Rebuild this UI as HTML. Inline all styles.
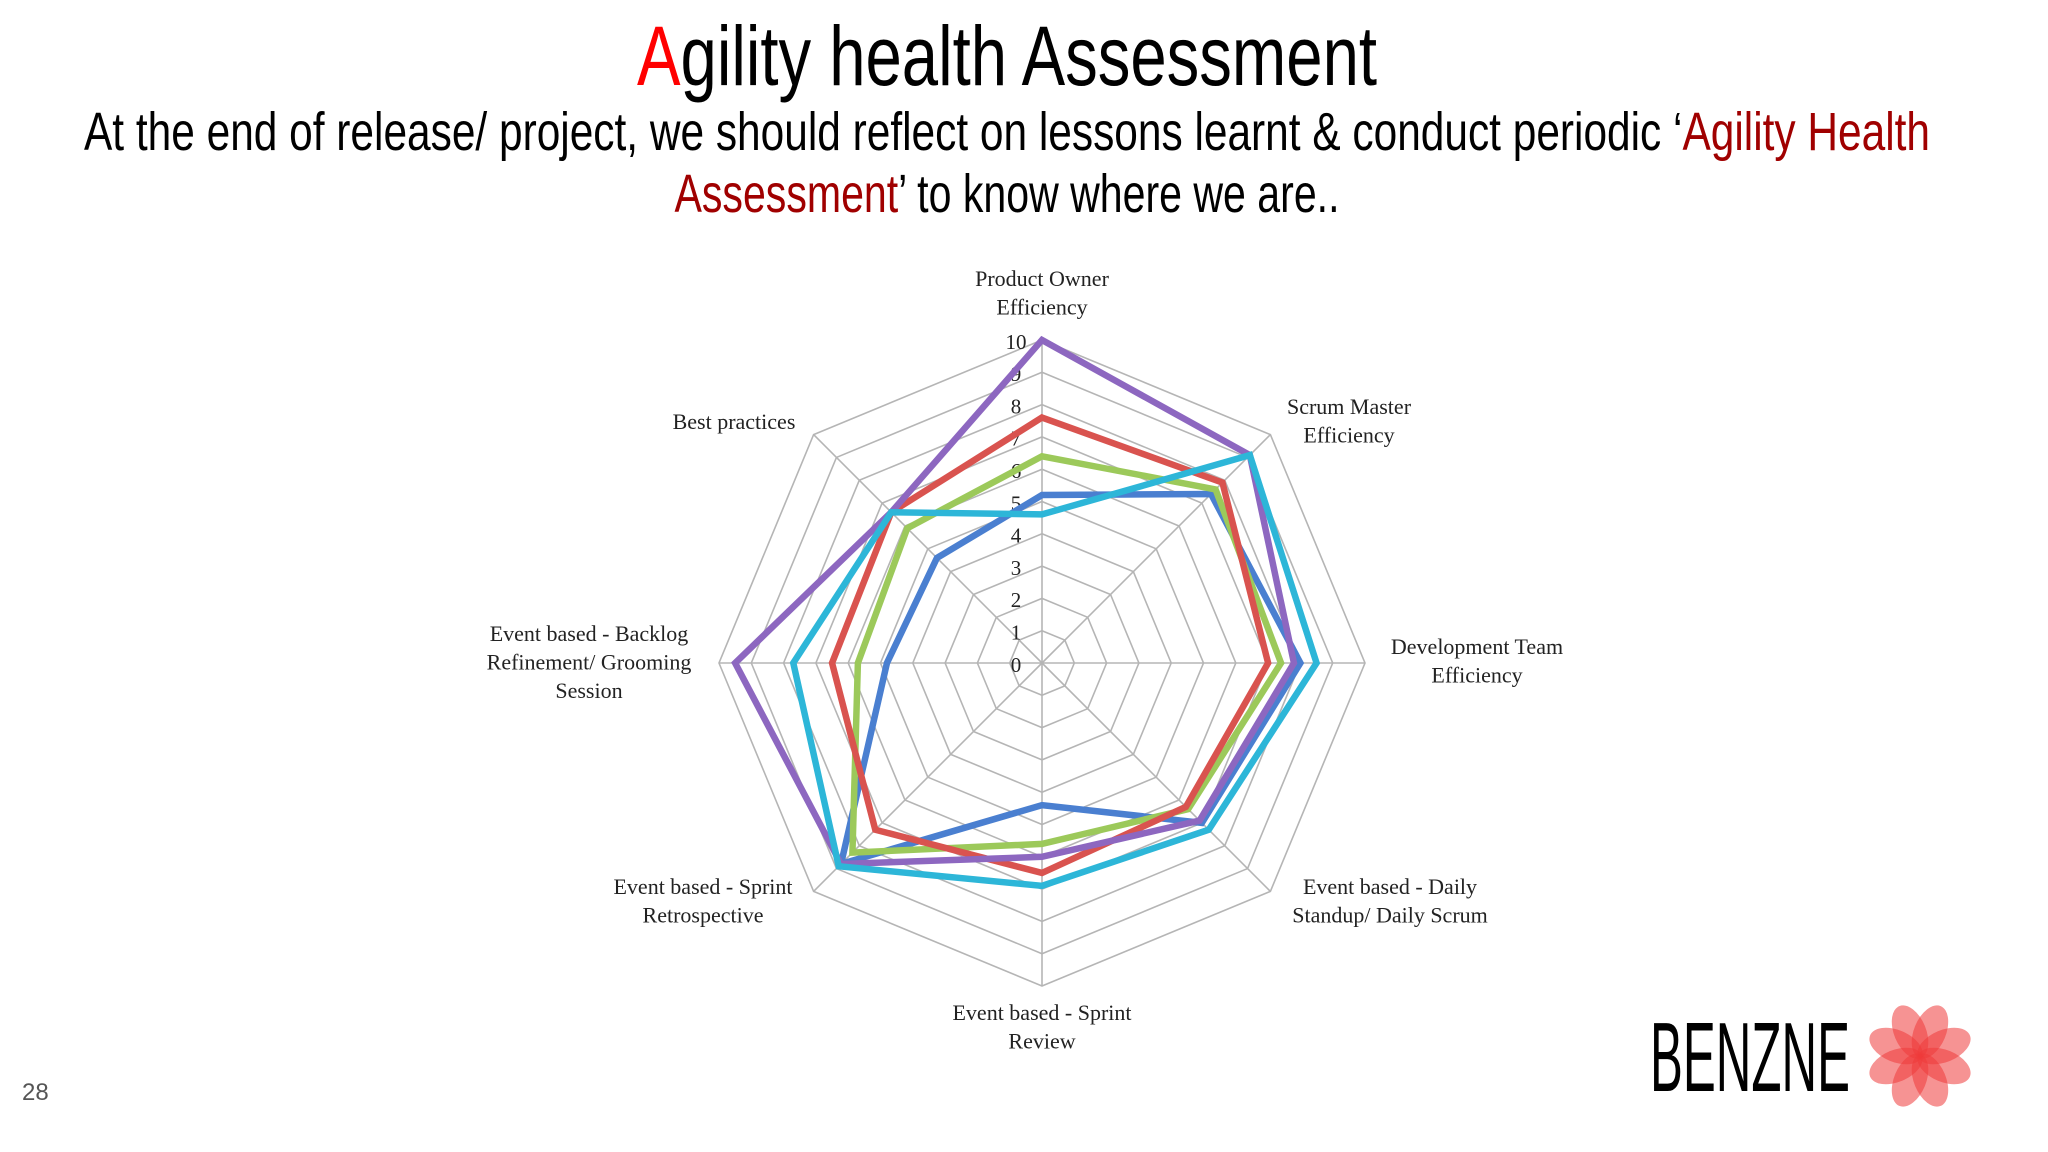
<!DOCTYPE html>
<html><head><meta charset="utf-8"><style>
html,body{margin:0;padding:0;background:#fff;}
svg{display:block;}
</style></head><body>
<svg id="s" width="2048" height="1152" viewBox="0 0 2048 1152" xmlns="http://www.w3.org/2000/svg">
<text x="1007" y="85" text-anchor="middle" font-family="'Liberation Sans Narrow','Liberation Sans',sans-serif" font-size="84" textLength="740" lengthAdjust="spacingAndGlyphs"><tspan fill="#ff0000">A</tspan><tspan fill="#000">gility health Assessment</tspan></text>
<text x="1007" y="150" text-anchor="middle" font-family="'Liberation Sans Narrow','Liberation Sans',sans-serif" font-size="54" textLength="1846" lengthAdjust="spacingAndGlyphs">At the end of release/ project, we should reflect on lessons learnt &amp; conduct periodic ‘<tspan fill="#a00000">Agility Health</tspan></text>
<text x="1007" y="212" text-anchor="middle" font-family="'Liberation Sans Narrow','Liberation Sans',sans-serif" font-size="54" textLength="665" lengthAdjust="spacingAndGlyphs"><tspan fill="#a00000">Assessment</tspan>’ to know where we are..</text>
<g id="chart"></g>
<text x="22" y="1100" font-family="'Liberation Sans',sans-serif" font-size="24" fill="#555">28</text>
<text x="1650" y="1091" font-family="'Liberation Sans Narrow','Liberation Sans',sans-serif" font-size="98" fill="#000" textLength="200" lengthAdjust="spacingAndGlyphs">BENZNE</text>
<g id="flower"></g>
</svg>
<script>
const categories = ["Product Owner Efficiency","Scrum Master Efficiency","Development Team Efficiency","Event based - Daily Standup/ Daily Scrum","Event based - Sprint Review","Event based - Sprint Retrospective","Event based - Backlog Refinement/ Grooming Session","Best practices"];
const tickLabels = ["0","1","2","3","4","5","6","7","8","9","10"];
const seriesBlue = [5.2, 7.4, 8.0, 7.0, 4.4, 8.8, 4.8, 4.6];
const seriesGreen = [6.4, 7.6, 7.4, 6.4, 5.6, 8.3, 5.7, 5.9];
const seriesRed = [7.6, 7.9, 7.0, 6.3, 6.5, 7.3, 6.5, 6.6];
const seriesPurple = [10, 9.1, 7.8, 6.9, 6.0, 8.8, 9.5, 6.6];
const seriesCyan = [4.6, 9.1, 8.5, 7.3, 6.9, 8.9, 7.7, 6.6];

const NS = "http://www.w3.org/2000/svg";
const cx = 1042, cy = 663, R = 323, maxV = 10;
const chart = document.getElementById('chart');
function ang(i){ return -Math.PI/2 + i*2*Math.PI/categories.length; }
function pt(i, v){ const r = v/maxV*R; return [cx + r*Math.cos(ang(i)), cy + r*Math.sin(ang(i))]; }
function mk(tag, attrs){ const e = document.createElementNS(NS, tag); for (const k in attrs) e.setAttribute(k, attrs[k]); return e; }

for (let t = 1; t < tickLabels.length; t++) {
  const pts = categories.map((c,i)=>pt(i,t).join(',')).join(' ');
  const g = mk('polygon', {points: pts, fill: 'none', stroke: '#b5b5b5', 'stroke-width': 1.6});
  
  
  chart.appendChild(g);
}
categories.forEach((c,i)=>{
  const [x,y] = pt(i, maxV);
  const l = mk('line', {x1: cx, y1: cy, x2: x, y2: y, stroke: '#b5b5b5', 'stroke-width': 1.6});
  
  
  chart.appendChild(l);
});
tickLabels.forEach((lab, t)=>{
  const [x,y] = pt(0, t);
  const tx = mk('text', {x: x-26, y: y+4, 'text-anchor': 'middle', 'dominant-baseline': 'middle', 'font-family': "'Liberation Serif',serif", 'font-size': 21, fill: '#222'});
  tx.textContent = lab;
  
  
  chart.appendChild(tx);
});
const labelLayout = [
  [["Product Owner","Efficiency"],1042,281],
  [["Scrum Master","Efficiency"],1349,409],
  [["Development Team","Efficiency"],1477,649],
  [["Event based - Daily","Standup/ Daily Scrum"],1390,889],
  [["Event based - Sprint","Review"],1042,1015],
  [["Event based - Sprint","Retrospective"],703,889],
  [["Event based - Backlog","Refinement/ Grooming","Session"],589,636],
  [["Best practices"],734,424]
];
labelLayout.forEach(([lines,x,y])=>{
  lines.forEach((ln,k)=>{
    const tx = mk('text', {x: x, y: y + k*28.5, 'text-anchor': 'middle', 'dominant-baseline': 'middle', 'font-family': "'Liberation Serif',serif", 'font-size': 22, fill: '#222'});
    tx.textContent = ln;
    
    
    chart.appendChild(tx);
  });
});
const series = [[seriesBlue,'#4a7fd0','series-blue'],[seriesGreen,'#9cc95a','series-green'],[seriesRed,'#d9534f','series-red'],[seriesPurple,'#8d67c0','series-purple'],[seriesCyan,'#2db6d8','series-cyan']];
series.forEach(([vals,col,name])=>{
  const pts = vals.map((v,i)=>pt(i,v).join(',')).join(' ');
  const p = mk('polygon', {points: pts, fill: 'none', stroke: col, 'stroke-width': 6.5, 'stroke-linejoin': 'miter'});
  
  
  chart.appendChild(p);
});
const fl = document.getElementById('flower');
for (let k=0;k<8;k++){
  const e = mk('ellipse', {cx: 1920, cy: 1030, rx: 16, ry: 28, fill: '#ee3b3b', 'fill-opacity': 0.55, transform: 'rotate('+(k*45+22.5)+' 1920 1056)'});
  
  
  fl.appendChild(e);
}
</script>
</body></html>
